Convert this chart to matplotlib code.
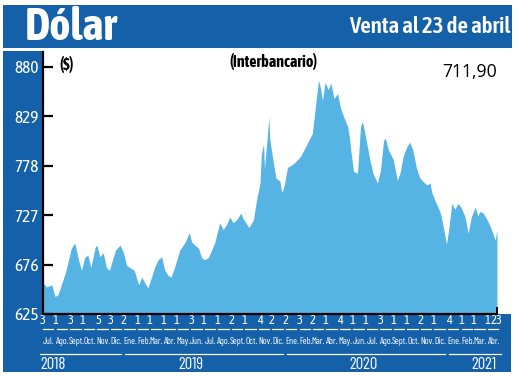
import datetime as dt
import matplotlib
matplotlib.use("Agg")
import matplotlib.pyplot as plt
import matplotlib.dates as mdates
from matplotlib.patches import Rectangle
from matplotlib.transforms import blended_transform_factory

# ---------------- data ----------------
dates = [
    "2018-07-03", "2018-07-11", "2018-07-23", "2018-07-30", "2018-08-06", "2018-08-17",
    "2018-08-24", "2018-09-05", "2018-09-13", "2018-09-21", "2018-09-28", "2018-10-05",
    "2018-10-12", "2018-10-19", "2018-10-29", "2018-11-02", "2018-11-08", "2018-11-16",
    "2018-11-23", "2018-11-30", "2018-12-07", "2018-12-14", "2018-12-24", "2018-12-31",
    "2019-01-08", "2019-01-18", "2019-01-25", "2019-02-04", "2019-02-11", "2019-02-18",
    "2019-02-25", "2019-03-05", "2019-03-12", "2019-03-20", "2019-03-28", "2019-04-04",
    "2019-04-11", "2019-04-18", "2019-04-26", "2019-05-08", "2019-05-20", "2019-05-29",
    "2019-06-04", "2019-06-11", "2019-06-19", "2019-06-26", "2019-07-03", "2019-07-11",
    "2019-07-19", "2019-07-26", "2019-08-06", "2019-08-14", "2019-08-21", "2019-08-29",
    "2019-09-05", "2019-09-13", "2019-09-23", "2019-09-27", "2019-10-04", "2019-10-11",
    "2019-10-21", "2019-10-28", "2019-11-05", "2019-11-08", "2019-11-13", "2019-11-15",
    "2019-11-20", "2019-11-25", "2019-11-27", "2019-12-02", "2019-12-04", "2019-12-11",
    "2019-12-20", "2019-12-24", "2019-12-30", "2020-01-02", "2020-01-06", "2020-01-20",
    "2020-02-04", "2020-02-20", "2020-03-02", "2020-03-09", "2020-03-16", "2020-03-20",
    "2020-03-25", "2020-03-31", "2020-04-07", "2020-04-13", "2020-04-20", "2020-04-28",
    "2020-05-05", "2020-05-12", "2020-05-21", "2020-05-25", "2020-05-28", "2020-06-03",
    "2020-06-12", "2020-06-19", "2020-06-23", "2020-06-25", "2020-07-03", "2020-07-10",
    "2020-07-17", "2020-07-27", "2020-08-03", "2020-08-10", "2020-08-14", "2020-08-21",
    "2020-09-01", "2020-09-10", "2020-09-16", "2020-09-23", "2020-10-01", "2020-10-08",
    "2020-10-15", "2020-10-23", "2020-10-30", "2020-11-06", "2020-11-16", "2020-11-23",
    "2020-11-27", "2020-12-04", "2020-12-11", "2020-12-17", "2020-12-24", "2020-12-30",
    "2021-01-04", "2021-01-11", "2021-01-18", "2021-01-25", "2021-02-01", "2021-02-10",
    "2021-02-17", "2021-02-24", "2021-03-05", "2021-03-11", "2021-03-16", "2021-03-23",
    "2021-04-01", "2021-04-08", "2021-04-14", "2021-04-19", "2021-04-23",
]
values = [
    657, 653, 655, 643, 645, 660,
    670, 693, 698, 681, 670, 683,
    686, 673, 694, 696, 684, 688,
    673, 670, 681, 691, 696, 689,
    675, 672, 670, 655, 663, 657,
    652, 663, 673, 681, 684, 670,
    665, 663, 673, 691, 699, 709,
    699, 696, 693, 683, 681, 683,
    691, 699, 719, 712, 717, 725,
    719, 722, 729, 724, 719, 714,
    722, 742, 760, 790, 800, 775,
    800, 828, 805, 790, 784, 765,
    762, 750, 758, 766, 776, 780,
    787, 801, 811, 838, 866, 859,
    845, 864, 856, 863, 847, 852,
    837, 828, 818, 807, 794, 772,
    770, 818, 823, 820, 801, 784,
    770, 760, 773, 804, 806, 794,
    784, 763, 770, 787, 797, 802,
    794, 776, 766, 762, 758, 760,
    750, 742, 735, 728, 712, 697,
    712, 739, 733, 739, 735, 725,
    708, 725, 735, 726, 731, 729,
    722, 715, 708, 701, 711.90,
]

yticks = [625, 676, 727, 778, 829, 880]

months = [(2018, m) for m in range(7, 13)] + [(2019, m) for m in range(1, 13)] + \
         [(2020, m) for m in range(1, 13)] + [(2021, m) for m in range(1, 5)]
first_days = [3, 1, 3, 1, 5, 3,
              2, 1, 1, 1, 1, 3, 1, 1, 2, 1, 4, 2,
              2, 3, 2, 1, 4, 1, 1, 3, 1, 1, 2, 1,
              4, 1, 1, 1]
month_names = {1: "Ene.", 2: "Feb.", 3: "Mar.", 4: "Abr.", 5: "May.", 6: "Jun.",
               7: "Jul.", 8: "Ago.", 9: "Sept.", 10: "Oct.", 11: "Nov.", 12: "Dic."}
last_day_label = "23"
years = ["2018", "2019", "2020", "2021"]

# ---------------- style ----------------
W, H, DPI = 520, 376, 100
BLUE = "#1461aa"
AREA = "#56b4e4"
NARROW = ["Asap Condensed", "Archivo Narrow", "DejaVu Sans"]
XNARROW = ["Barlow Condensed", "Asap Condensed", "DejaVu Sans"]
REG = ["Open Sans", "Noto Sans", "DejaVu Sans"]


def fx(px):
    return px / W


def fy(py):
    return 1 - py / H


fig = plt.figure(figsize=(W / DPI, H / DPI), dpi=DPI)
fig.patch.set_facecolor("white")

for (x0, y0, x1, y1) in [(3, 5, 512, 48), (3, 51, 43, 372), (3, 314, 511, 372)]:
    fig.patches.append(Rectangle((fx(x0), fy(y1)), fx(x1) - fx(x0), fy(y0) - fy(y1),
                                 transform=fig.transFigure, facecolor=BLUE,
                                 edgecolor="none", zorder=-1))

ax = fig.add_axes([fx(43), fy(314), fx(512) - fx(43), fy(52) - fy(314)])
ax.set_facecolor("white")

x = [dt.datetime.strptime(d, "%Y-%m-%d") for d in dates]
start = x[0]
end = x[-1]
ax.set_xlim(start, start + dt.timedelta(days=1059))
ax.set_ylim(625, 895)
ax.fill_between(x, values, 625, color=AREA, lw=0, zorder=1)

ax.set_yticks(yticks)
ax.set_yticklabels([str(v) for v in yticks], family=NARROW, fontsize=12.5, color="white")
ax.tick_params(axis="y", direction="in", length=7.5, width=1.6, color="black", pad=3)
ax.set_xticks([])
for s in ["top", "right"]:
    ax.spines[s].set_visible(False)
ax.spines["left"].set_linewidth(1.6)
ax.spines["bottom"].set_linewidth(1.6)
ax.spines["bottom"].set_bounds(mdates.date2num(start), mdates.date2num(end))
ax.spines["left"].set_zorder(3)
ax.spines["bottom"].set_zorder(3)

trans = blended_transform_factory(ax.transData, fig.transFigure)
ax.plot([end, end], [fy(308), fy(314)], transform=trans, color="black", lw=1.4,
        clip_on=False, zorder=4)

# bottom band: day numbers, dashes, month names
for (yy, mm), d in zip(months, first_days):
    ax.text(dt.datetime(yy, mm, d), fy(324), str(d), transform=trans, ha="center",
            va="baseline", color="white", fontsize=9, family=NARROW)
    ax.text(dt.datetime(yy, mm, 16), fy(344), month_names[mm], transform=trans,
            ha="center", va="baseline", color="white", fontsize=6.8, family=XNARROW)
    ax.plot([dt.datetime(yy, mm, 3), dt.datetime(yy, mm, 26)], [fy(328.5)] * 2,
            transform=trans, color="white", lw=0.9, clip_on=False)
ax.text(end, fy(324), last_day_label, transform=trans, ha="center", va="baseline",
        color="white", fontsize=9, family=NARROW)

# year lines and labels
year_spans = [(dt.datetime(2018, 6, 27), dt.datetime(2018, 12, 26)),
              (dt.datetime(2019, 1, 5), dt.datetime(2019, 12, 27)),
              (dt.datetime(2020, 1, 5), dt.datetime(2020, 12, 26)),
              (dt.datetime(2021, 1, 5), dt.datetime(2021, 5, 2))]
for a, b in year_spans:
    ax.plot([a, b], [fy(354)] * 2, transform=trans, color="white", lw=0.9, clip_on=False)
year_pos = [(dt.datetime(2018, 6, 27), "left"), (dt.datetime(2019, 6, 1), "center"),
            (dt.datetime(2020, 6, 26), "center"), (end, "right")]
for label, (pos, ha) in zip(years, year_pos):
    ax.text(pos, fy(369), label, transform=trans, ha=ha, va="baseline", color="white",
            fontsize=12, family=XNARROW)

# titles
fig.text(fx(25), fy(40), "Dólar", color="white", fontsize=32.5, fontweight="bold",
         family=NARROW, ha="left", va="baseline")
fig.text(fx(510), fy(33), "Venta al 23 de abril", color="white", fontsize=16.5,
         fontweight="semibold", family=NARROW, ha="right", va="baseline")
fig.text(fx(273), fy(67), "(Interbancario)", color="black", fontsize=11.5,
         fontweight="bold", family=NARROW, ha="center", va="baseline")
fig.text(fx(59), fy(70), "($)", color="black", fontsize=11.5, fontweight="bold",
         family=NARROW, ha="left", va="baseline")
fig.text(fx(470), fy(77), "711,90", color="black", fontsize=12.7, family=REG,
         ha="center", va="baseline")

fig.savefig("out.png", dpi=DPI)
